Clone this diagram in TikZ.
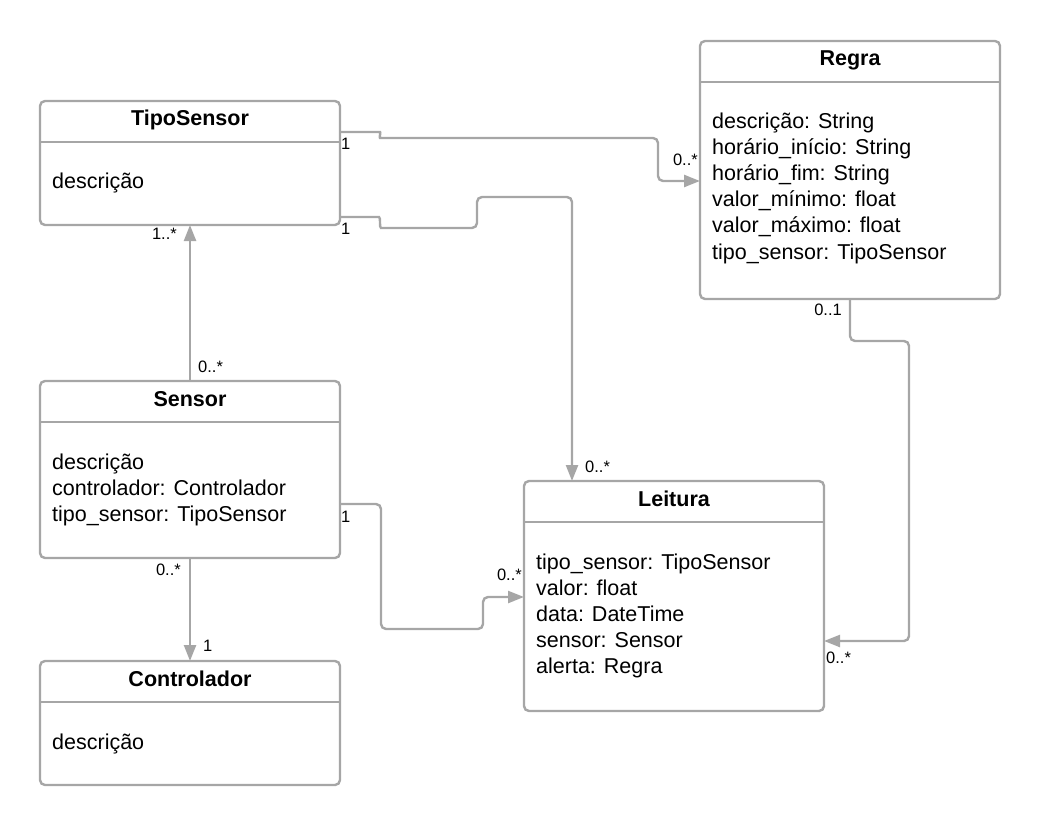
\documentclass[tikz,border=0pt]{standalone}
\usepackage{fontspec}
\setmainfont{Liberation Sans}
\usetikzlibrary{arrows.meta,calc}
\definecolor{umlgray}{RGB}{166,166,166}

\begin{document}
\begin{tikzpicture}[x=1pt, y=-1pt,
  classbox/.style={rectangle, draw=umlgray, line width=2.4pt, rounded corners=5pt, fill=white,
    minimum width=300pt, anchor=north west, inner sep=0pt, outer sep=0pt},
  classtitle/.style={font=\fontsize{21.5}{26}\selectfont\bfseries, anchor=base, inner sep=0pt},
  attr/.style={font=\fontsize{21.5}{26}\selectfont, anchor=base west, inner sep=0pt},
  sepline/.style={draw=umlgray, line width=2.4pt},
  assoc/.style={draw=umlgray, line width=2.4pt, rounded corners=5pt, -{Triangle[length=16pt,width=12pt]}},
  mult/.style={font=\fontsize{16.5}{20}\selectfont, inner sep=0pt}]
  \useasboundingbox (0,0) rectangle (1040,826);

  % TipoSensor
  \node[classbox, minimum height=124pt] (tipo) at (40,101) {};
  \node[classtitle] (tipoT) at ($(tipo.north)+(0,25)$) {TipoSensor};
  \draw[sepline] ($(tipo.north west)+(0,41)$) -- ($(tipo.north east)+(0,41)$);
  \node[attr] (tipo-a1) at ($(tipo.north west)+(12,88)$) {descrição};

  % Regra
  \node[classbox, minimum height=258pt] (regra) at (700,41) {};
  \node[classtitle] (regraT) at ($(regra.north)+(0,25)$) {Regra};
  \draw[sepline] ($(regra.north west)+(0,41)$) -- ($(regra.north east)+(0,41)$);
  \foreach \txt [count=\i] in {descrição: String, horário\_início: String, horário\_fim: String,
    valor\_mínimo: float, valor\_máximo: float, tipo\_sensor: TipoSensor}
    \node[attr] (regra-a\i) at ($(regra.north west)+(12,{62+26*\i})$) {\txt};

  % Sensor
  \node[classbox, minimum height=177pt] (sens) at (40,381) {};
  \node[classtitle] (sensT) at ($(sens.north)+(0,25)$) {Sensor};
  \draw[sepline] ($(sens.north west)+(0,41)$) -- ($(sens.north east)+(0,41)$);
  \foreach \txt [count=\i] in {descrição, controlador: Controlador, tipo\_sensor: TipoSensor}
    \node[attr] (sens-a\i) at ($(sens.north west)+(12,{62+26*\i})$) {\txt};

  % Leitura
  \node[classbox, minimum height=230pt] (leit) at (524,481) {};
  \node[classtitle] (leitT) at ($(leit.north)+(0,25)$) {Leitura};
  \draw[sepline] ($(leit.north west)+(0,41)$) -- ($(leit.north east)+(0,41)$);
  \foreach \txt [count=\i] in {tipo\_sensor: TipoSensor, valor: float, data: DateTime,
    sensor: Sensor, alerta: Regra}
    \node[attr] (leit-a\i) at ($(leit.north west)+(12,{62+26*\i})$) {\txt};

  % Controlador
  \node[classbox, minimum height=124pt] (ctrl) at (40,661) {};
  \node[classtitle] (ctrlT) at ($(ctrl.north)+(0,25)$) {Controlador};
  \draw[sepline] ($(ctrl.north west)+(0,41)$) -- ($(ctrl.north east)+(0,41)$);
  \node[attr] (ctrl-a1) at ($(ctrl.north west)+(12,88)$) {descrição};

  % associations
  \draw[assoc] ($(tipo.north east)+(0,31)$) -- (375,132) .. controls (381,132) and (379,138) .. (385,138)
    -- (658,138) |- ($(regra.north west)+(0,140)$);
  \draw[assoc] ($(tipo.north east)+(0,116)$) -- (374,217) .. controls (381,217) and (379,228) .. (386,228)
    -- (477,228) |- (572,197) -- ($(leit.north west)+(48,0)$);
  \draw[assoc] (sens) -- (tipo);
  \draw[assoc] ($(sens.north east)+(0,123)$) -| (381,629) -| (483,597)
    -- ($(leit.north west)+(0,116)$);
  \draw[assoc] (sens) -- (ctrl);
  \draw[assoc] ($(regra.south west)+(150,0)$) |- (909,341) |- ($(leit.north east)+(0,160)$);

  % multiplicities
  \node[mult, anchor=base west] (m-tipo-regra) at ($(tipo.north east)+(1,49)$) {1};
  \node[mult, anchor=base east] (m-regra-tipo) at ($(regra.north west)+(-2,125)$) {0..*};
  \node[mult, anchor=base west] (m-tipo-leit) at ($(tipo.north east)+(1,134)$) {1};
  \node[mult, anchor=base west] (m-leit-tipo) at ($(leit.north west)+(61,-9)$) {0..*};
  \node[mult, anchor=base east] (m-tipo-sens) at ($(tipo.south)+(-13,15)$) {1..*};
  \node[mult, anchor=base west] (m-sens-tipo) at ($(sens.north)+(8,-9)$) {0..*};
  \node[mult, anchor=base west] (m-sens-leit) at ($(sens.north east)+(1,141)$) {1};
  \node[mult, anchor=base east] (m-leit-sens) at ($(leit.north west)+(-2,99)$) {0..*};
  \node[mult, anchor=base east] (m-sens-ctrl) at ($(sens.south)+(-9,17)$) {0..*};
  \node[mult, anchor=base west] (m-ctrl-sens) at ($(ctrl.north)+(13,-10)$) {1};
  \node[mult, anchor=base east] (m-regra-leit) at ($(regra.south west)+(142,16)$) {0..1};
  \node[mult, anchor=base west] (m-leit-regra) at ($(leit.north east)+(2,182)$) {0..*};

\end{tikzpicture}
\end{document}
